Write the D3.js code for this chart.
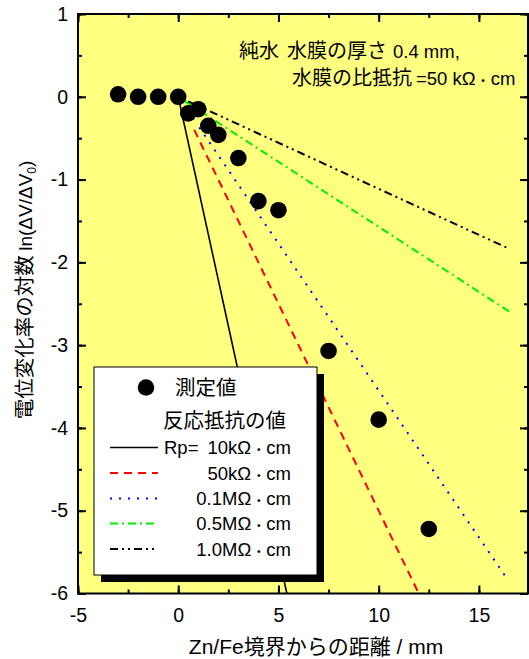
<!DOCTYPE html>
<html>
<head>
<meta charset="utf-8">
<script src="https://cdn.jsdelivr.net/npm/d3@7"></script>
<style>
  body { margin: 0; background: #fff; }
  text { font-family: "Liberation Sans", Arial, "Noto Sans CJK JP", sans-serif; fill: #000; }
  .jp { font-family: "Noto Sans CJK JP", "Liberation Sans", sans-serif; }
</style>
</head>
<body>
<svg width="529" height="659"></svg>
<script>
// measured points
const distance = [-3, -2, -1, 0, 0.5, 1, 1.5, 2, 3, 4, 5, 7.5, 10, 12.5]
const lnRatio = [0.03, 0, 0, 0, -0.2, -0.15, -0.35, -0.46, -0.74, -1.26, -1.37, -3.07, -3.9, -5.22]

// model lines (start / end)
const modelLabels = ['10kΩ', '50kΩ', '0.1MΩ', '0.5MΩ', '1.0MΩ']
const modelStart = [[0, 0], [0.8, -0.4], [1.05, -0.37], [0.35, -0.055], [0.5, -0.055]]
const modelEnd = [[5.42, -6], [12, -6], [16.4, -5.82], [16.55, -2.6], [16.55, -1.84]]
const modelColors = ['#000', '#ff0000', '#0000ff', '#00ee00', '#000']
const modelDash = [null, '8,6', '2,7', '8,4,2,4', '8,4,2,4,2,4']

const xTicks = [-5, 0, 5, 10, 15]
const yTicks = [-6, -5, -4, -3, -2, -1, 0, 1]

const pLeft = 78, pRight = 528, pTop = 14, pBottom = 593.5

const x = d3.scaleLinear().domain([-5, 17.45]).range([pLeft, pRight])
const y = d3.scaleLinear().domain([-6, 1]).range([pBottom, pTop])

const svg = d3.select('svg')

svg.append('rect')
  .attr('x', pLeft).attr('y', pTop)
  .attr('width', pRight - pLeft).attr('height', pBottom - pTop)
  .attr('fill', '#ffff80')

svg.append('clipPath').attr('id', 'plot')
  .append('rect')
  .attr('x', pLeft).attr('y', pTop)
  .attr('width', pRight - pLeft).attr('height', pBottom - pTop)

const plot = svg.append('g').attr('clip-path', 'url(#plot)')

modelLabels.forEach((d, i) => {
  plot.append('line')
    .attr('x1', x(modelStart[i][0])).attr('y1', y(modelStart[i][1]))
    .attr('x2', x(modelEnd[i][0])).attr('y2', y(modelEnd[i][1]))
    .attr('stroke', modelColors[i])
    .attr('stroke-width', i == 0 ? 1.6 : 2)
    .attr('stroke-dasharray', modelDash[i])
})

plot.selectAll('.pt')
  .data(distance)
  .enter()
  .append('circle')
  .classed('pt', true)
  .attr('cx', d => x(d))
  .attr('cy', (d, i) => y(lnRatio[i]))
  .attr('r', 8.3)
  .attr('fill', '#000')

// axes, ticks pointing inward
const minorX = d3.range(-5, 17.5, 2.5)
const minorY = d3.range(-6, 1.01, 0.5)

function ticks(axis, tr, vals, size) {
  const g = svg.append('g').attr('transform', tr)
    .call(axis.tickValues(vals).tickSize(-size).tickFormat(''))
  g.select('.domain').remove()
  g.selectAll('.tick line').attr('stroke-width', 2)
  return g
}
ticks(d3.axisBottom(x), `translate(0,${pBottom})`, minorX, 4)
ticks(d3.axisBottom(x), `translate(0,${pBottom})`, xTicks, 8)
ticks(d3.axisTop(x), `translate(0,${pTop})`, minorX, 4)
ticks(d3.axisTop(x), `translate(0,${pTop})`, xTicks, 8)
ticks(d3.axisLeft(y), `translate(${pLeft},0)`, minorY, 4)
ticks(d3.axisLeft(y), `translate(${pLeft},0)`, yTicks, 8)
ticks(d3.axisRight(y), `translate(${pRight},0)`, minorY, 4)
ticks(d3.axisRight(y), `translate(${pRight},0)`, yTicks, 8)

const xAxisG = svg.append('g').attr('transform', `translate(0,${pBottom})`)
  .call(d3.axisBottom(x).tickValues(xTicks).tickSize(0).tickPadding(15).tickFormat(d => String(d)))
xAxisG.select('.domain').remove()
xAxisG.selectAll('text').attr('font-size', 19.5)
xAxisG.attr('font-family', null).attr('font-size', null)

const yAxisG = svg.append('g').attr('transform', `translate(${pLeft},0)`)
  .call(d3.axisLeft(y).tickValues(yTicks).tickSize(0).tickPadding(10).tickFormat(d => String(d)))
yAxisG.select('.domain').remove()
yAxisG.selectAll('text').attr('font-size', 19.5)
yAxisG.attr('font-family', null).attr('font-size', null)

svg.append('rect')
  .attr('x', pLeft).attr('y', pTop)
  .attr('width', pRight - pLeft).attr('height', pBottom - pTop)
  .attr('fill', 'none').attr('stroke', '#000').attr('stroke-width', 2)

// "kΩ・cm" style unit: small middle dot
function unit(t, size) {
  t.append('tspan').attr('font-size', size * 0.6).attr('dx', 2).attr('font-weight', 'bold').text('・')
  t.append('tspan').attr('font-size', size).attr('dx', 2).text('cm')
}

// annotation
const note1 = svg.append('text').attr('x', 239).attr('y', 58)
note1.append('tspan').attr('class', 'jp').attr('font-size', 20).text('純水')
note1.append('tspan').attr('class', 'jp').attr('font-size', 20).attr('dx', 8).text('水膜の厚さ')
note1.append('tspan').attr('font-size', 18.5).attr('dx', 6).text('0.4 mm,')
const note2 = svg.append('text').attr('x', 292).attr('y', 85)
note2.append('tspan').attr('class', 'jp').attr('font-size', 20).text('水膜の比抵抗')
note2.append('tspan').attr('font-size', 18.5).attr('dx', 4).text('=50 kΩ')
unit(note2, 18.5)

// legend
const legend = svg.append('g')
legend.append('rect').attr('x', 101).attr('y', 374)
  .attr('width', 223).attr('height', 208).attr('fill', '#000')
legend.append('rect').attr('x', 94).attr('y', 367)
  .attr('width', 223).attr('height', 208)
  .attr('fill', '#fff').attr('stroke', '#000').attr('stroke-width', 1)

legend.append('circle').attr('cx', 146).attr('cy', 387.5).attr('r', 8.3).attr('fill', '#000')
legend.append('text').attr('class', 'jp').attr('x', 175).attr('y', 395)
  .attr('font-size', 20.5).text('測定値')
legend.append('text').attr('class', 'jp').attr('x', 163).attr('y', 428)
  .attr('font-size', 20.5).text('反応抵抗の値')

const rowY = [447.5, 473, 498.5, 523.5, 549]
modelLabels.forEach((d, i) => {
  legend.append('line')
    .attr('x1', 110).attr('x2', 158)
    .attr('y1', rowY[i]).attr('y2', rowY[i])
    .attr('stroke', modelColors[i])
    .attr('stroke-width', i == 0 ? 1.6 : 2)
    .attr('stroke-dasharray', modelDash[i])
  const t = legend.append('text')
    .attr('x', 291).attr('y', rowY[i] + 6.5)
    .attr('text-anchor', 'end')
    .attr('font-size', 18.5)
  t.append('tspan').text(d)
  unit(t, 18.5)
})
legend.append('text').attr('x', 164).attr('y', rowY[0] + 6.5)
  .attr('font-size', 18.5).text('Rp=')

// axis titles
const yLab = svg.append('text')
  .attr('transform', 'translate(32,290) rotate(-90)')
  .attr('text-anchor', 'middle')
yLab.append('tspan').attr('class', 'jp').attr('font-size', 20.5).text('電位変化率の対数 ')
yLab.append('tspan').attr('font-size', 19).text('ln(ΔV/ΔV')
yLab.append('tspan').attr('font-size', 12).attr('dy', 4).text('0')
yLab.append('tspan').attr('font-size', 19).attr('dy', -4).text(')')

const xLab = svg.append('text')
  .attr('x', 316).attr('y', 654)
  .attr('text-anchor', 'middle')
xLab.append('tspan').attr('font-size', 21).text('Zn/Fe')
xLab.append('tspan').attr('class', 'jp').attr('font-size', 21).text('境界からの距離')
xLab.append('tspan').attr('font-size', 21).text(' / mm')
</script>
</body>
</html>
